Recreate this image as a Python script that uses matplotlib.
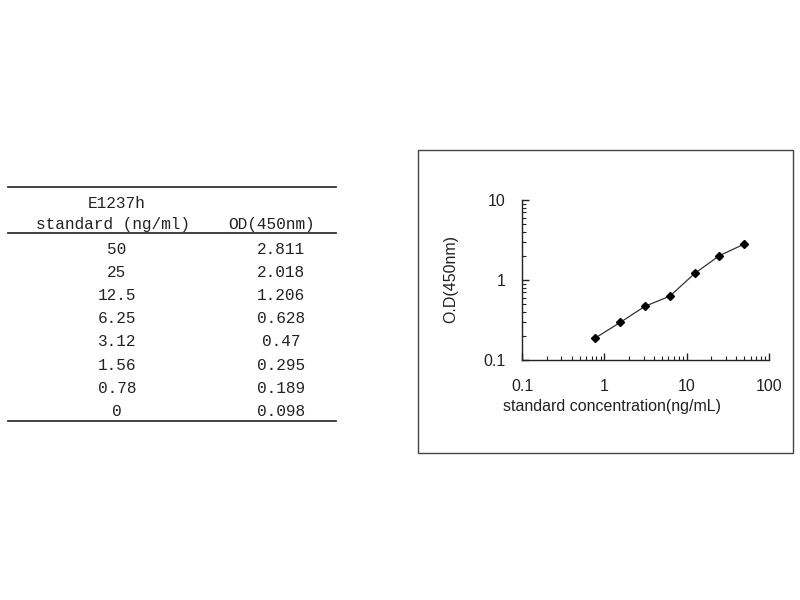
import matplotlib
matplotlib.use("Agg")
import matplotlib.pyplot as plt
from matplotlib.patches import Rectangle
from matplotlib.lines import Line2D
from matplotlib.ticker import LogLocator, NullFormatter, FixedLocator, FixedFormatter

# ---- data ----
table_title = "E1237h"
col1_header = "standard (ng/ml)"
col2_header = "OD(450nm)"
std_conc_labels = ["50", "25", "12.5", "6.25", "3.12", "1.56", "0.78", "0"]
od_labels = ["2.811", "2.018", "1.206", "0.628", "0.47", "0.295", "0.189", "0.098"]

conc = [50, 25, 12.5, 6.25, 3.12, 1.56, 0.78]
od = [2.811, 2.018, 1.206, 0.628, 0.47, 0.295, 0.189]

x_ticks = [0.1, 1, 10, 100]
x_ticklabels = ["0.1", "1", "10", "100"]
y_ticks = [0.1, 1, 10]
y_ticklabels = ["0.1", "1", "10"]

W, H = 800, 600
fig = plt.figure(figsize=(8, 6), dpi=100)

def fx(px):
    return px / W

def fy(py):
    return 1 - py / H

# ---- table ----
tfont = ["Liberation Mono", "Noto Sans CJK SC"]
tcolor = "#222222"
lc = "#333333"
tsize = 11.6
for yy in (187, 233, 421):
    fig.add_artist(Line2D([fx(8), fx(336)], [fy(yy), fy(yy)], color=lc, lw=1.3))

c1, c2 = 117, 281
fig.text(fx(c1), fy(203), table_title, family=tfont, fontsize=tsize, color=tcolor, ha="center", va="center")
fig.text(fx(113), fy(225), col1_header, family=tfont, fontsize=tsize, color=tcolor, ha="center", va="center")
fig.text(fx(272), fy(225), col2_header, family=tfont, fontsize=tsize, color=tcolor, ha="center", va="center")
row0, dy = 249, 23.2
for i, (a, b) in enumerate(zip(std_conc_labels, od_labels)):
    y = row0 + i * dy
    fig.text(fx(c1), fy(y), a, family=tfont, fontsize=tsize, color=tcolor, ha="center", va="center")
    fig.text(fx(c2), fy(y), b, family=tfont, fontsize=tsize, color=tcolor, ha="center", va="center")

# ---- chart box ----
fig.add_artist(Rectangle((fx(418), fy(453)), fx(793) - fx(418), fy(150) - fy(453),
                         fill=False, edgecolor="#444444", lw=1.0, transform=fig.transFigure))

ax = fig.add_axes([fx(522), fy(360), fx(769) - fx(522), fy(200) - fy(360)])
ax.plot(conc, od, color="#333333", lw=0.9, marker="D", markersize=4,
        markerfacecolor="black", markeredgecolor="black")
ax.set_xscale("log")
ax.set_yscale("log")
ax.set_xlim(0.1, 100)
ax.set_ylim(0.1, 10)
for s in ("top", "right"):
    ax.spines[s].set_visible(False)
for s in ("left", "bottom"):
    ax.spines[s].set_color("#222222")
    ax.spines[s].set_linewidth(1.0)

ax.xaxis.set_major_locator(FixedLocator(x_ticks))
ax.xaxis.set_major_formatter(FixedFormatter(x_ticklabels))
ax.yaxis.set_major_locator(FixedLocator(y_ticks))
ax.yaxis.set_major_formatter(FixedFormatter(y_ticklabels))
ax.xaxis.set_minor_locator(LogLocator(base=10, subs=range(2, 10)))
ax.yaxis.set_minor_locator(LogLocator(base=10, subs=range(2, 10)))
ax.xaxis.set_minor_formatter(NullFormatter())
ax.yaxis.set_minor_formatter(NullFormatter())

afont = "Liberation Sans"
asize = 11.5
ax.tick_params(axis="both", which="both", direction="in", color="#222222")
ax.tick_params(axis="both", which="major", length=5, width=1.0)
ax.tick_params(axis="both", which="minor", length=3, width=0.8)
ax.tick_params(axis="x", which="major", pad=14)
ax.tick_params(axis="y", which="major", pad=12)
for lab in ax.get_xticklabels() + ax.get_yticklabels():
    lab.set_fontfamily(afont)
    lab.set_fontsize(asize)
    lab.set_color("#222222")

ax.set_xlabel("standard concentration(ng/mL)", family=afont, fontsize=asize, color="#222222", labelpad=1)
ax.xaxis.set_label_coords((612 - 522) / (769 - 522), -(407 - 360) / 160, transform=ax.transAxes)
ax.xaxis.label.set_va("center")
ax.set_ylabel("O.D(450nm)", family=afont, fontsize=asize, color="#222222")
ax.yaxis.set_label_coords(-(522 - 451) / 247, (360 - 279) / 160, transform=ax.transAxes)
ax.yaxis.label.set_va("center")

fig.savefig("out.png", dpi=100)
